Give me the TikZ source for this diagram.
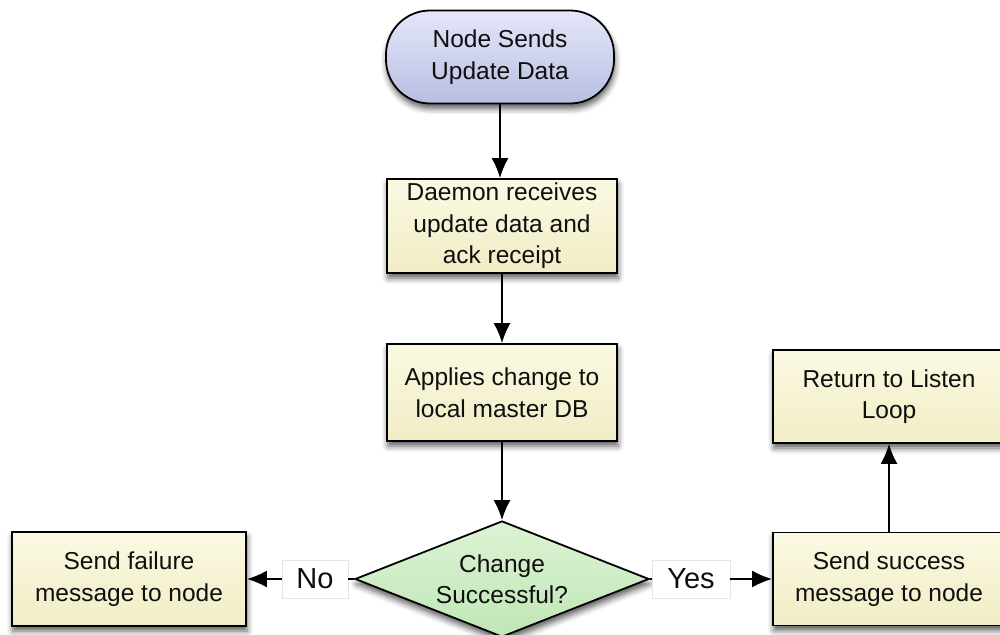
\documentclass[tikz,border=0pt]{standalone}
\usepackage{fontspec}
\setmainfont{Liberation Sans}
\usetikzlibrary{shapes.geometric,shadows.blur,arrows.meta}
\definecolor{creamtop}{RGB}{251,249,226}
\definecolor{creambot}{RGB}{241,237,198}
\definecolor{lavtop}{RGB}{228,231,250}
\definecolor{lavbot}{RGB}{184,190,226}
\definecolor{greentop}{RGB}{220,243,212}
\definecolor{greenbot}{RGB}{192,230,182}
\definecolor{txt}{RGB}{15,15,15}
\tikzset{
  x={(1pt,0)}, y={(0,-1pt)},
  base/.style={draw=black, line width=1.8pt, text=txt, align=center,
    font=\fontsize{24.5}{31.5}\selectfont, inner sep=0pt,
    blur shadow={shadow xshift=1pt, shadow yshift=-5pt, shadow blur radius=6pt, shadow opacity=65}},
  procbox/.style={base, rectangle, top color=creamtop, bottom color=creambot},
  termbox/.style={base, rectangle, rounded corners=44pt, top color=lavtop, bottom color=lavbot,
    minimum width=228pt, minimum height=93pt},
  decbox/.style={base, diamond, top color=greentop, bottom color=greenbot,
    minimum width=294pt, minimum height=116pt, shape aspect=2.5},
  lbl/.style={draw=black!10, fill=white, line width=0.6pt, text=txt, inner sep=0pt,
    font=\fontsize{29}{34}\selectfont, minimum height=38pt},
  conn/.style={line width=1.8pt, draw=black},
  arr/.style={conn, -{Latex[length=20pt,width=17pt]}},
}
\begin{document}
\begin{tikzpicture}
\useasboundingbox (0,0) rectangle (1000,634);
\clip (0,0) rectangle (1000,634);
\node[termbox] (start) at (500,57) {Node Sends\\Update Data};
\node[procbox, minimum width=230pt, minimum height=94pt] (recv) at (502,226) {Daemon receives\\update data and\\ack receipt};
\node[procbox, minimum width=230pt, minimum height=97pt] (apply) at (502,392.5) {Applies change to\\local master DB};
\node[decbox] (dec) at (502,579) {Change\\Successful?};
\node[procbox, minimum width=234pt, minimum height=94pt] (fail) at (129,579) {Send failure\\message to node};
\node[procbox, minimum width=232pt, minimum height=93pt] (succ) at (889,579) {Send success\\message to node};
\node[procbox, minimum width=232pt, minimum height=93pt] (ret) at (889,396.5) {Return to Listen\\Loop};
\node[lbl, minimum width=66pt] (no) at (315,579) {No};
\node[lbl, minimum width=78pt] (yes) at (691,579) {Yes};
\draw[arr] (start.south) -- (start.south |- recv.north);
\draw[arr] (recv.south) -- (apply.north);
\draw[arr] (apply.south) -- (dec.north);
\draw[conn] (dec.west) -- (no.east);
\draw[arr] (no.west) -- (fail.east);
\draw[conn] (dec.east) -- (yes.west);
\draw[arr] (yes.east) -- (succ.west);
\draw[arr] (succ.north) -- (ret.south);
\end{tikzpicture}
\end{document}
